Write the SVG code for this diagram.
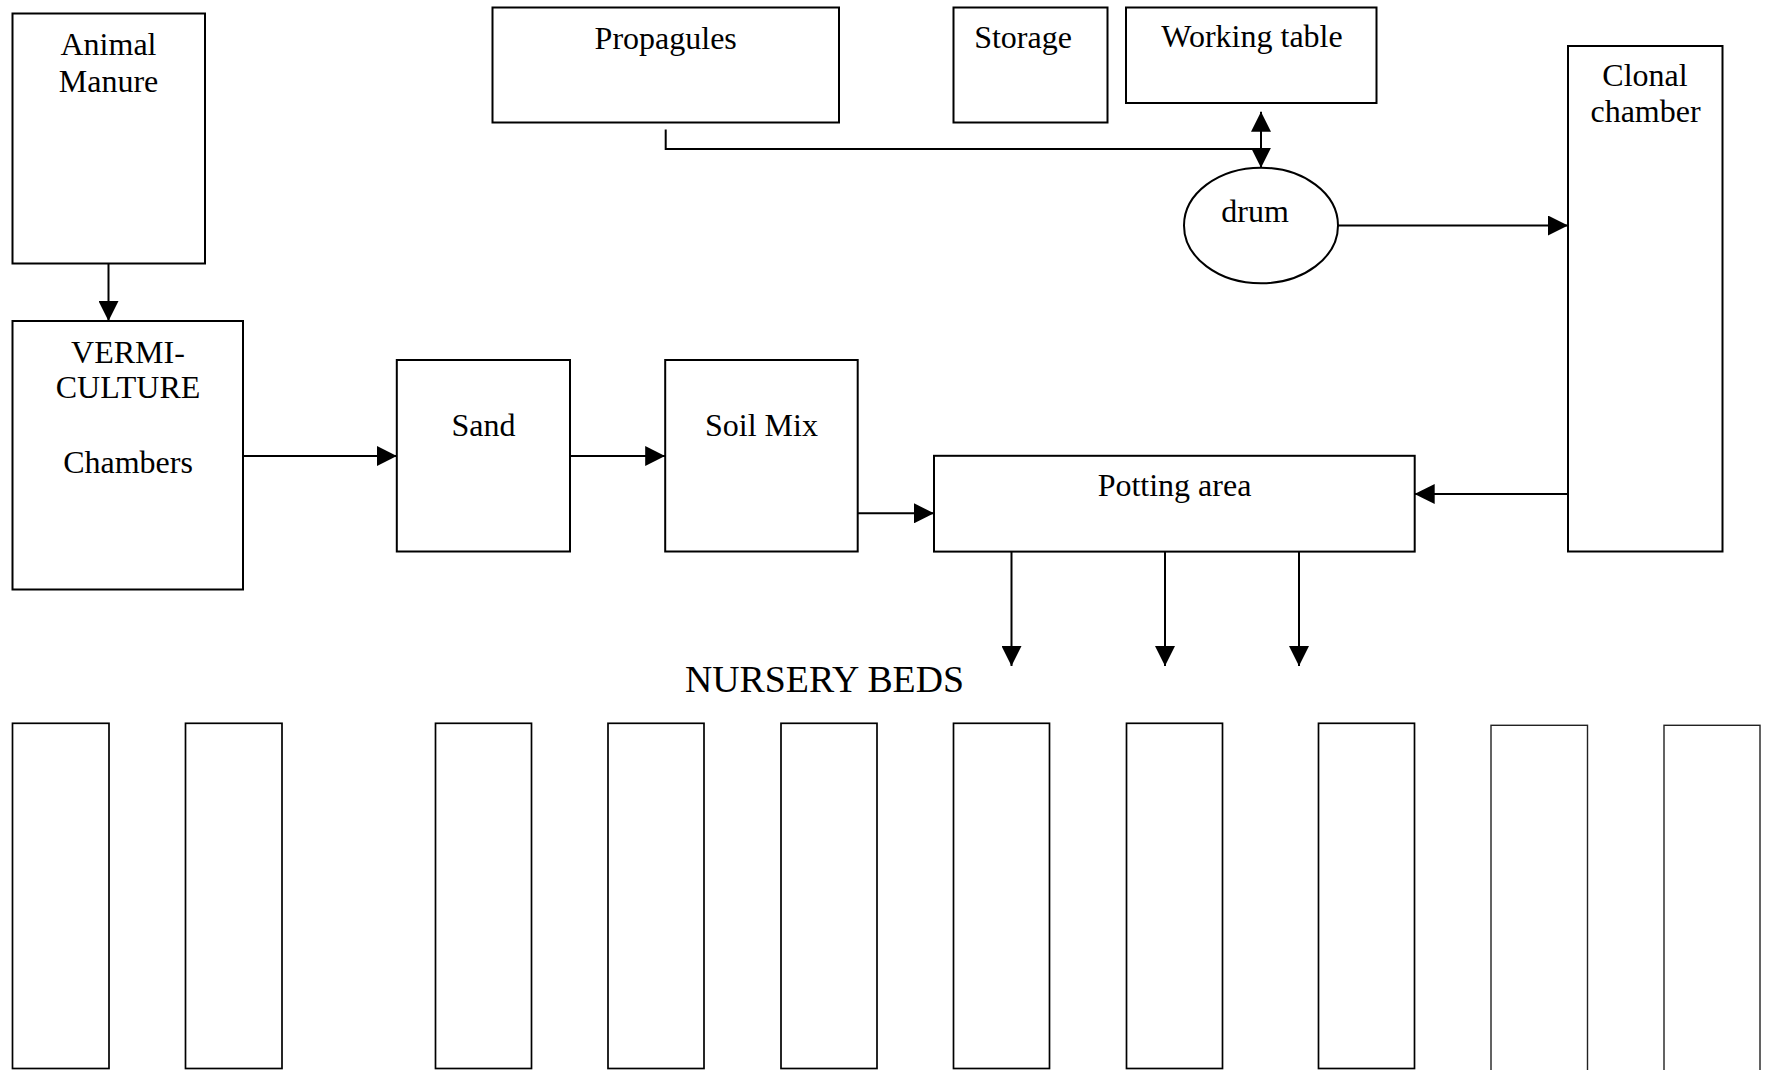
<svg xmlns="http://www.w3.org/2000/svg" width="1765" height="1070" viewBox="0 0 1765 1070">
<style>
  .box { fill: #ffffff; stroke: #000000; stroke-width: 2; }
  .bed { fill: #ffffff; stroke: #000000; stroke-width: 1.7; }
  .bed-thin { fill: #ffffff; stroke: #222222; stroke-width: 1.4; }
  .lbl { font-family: "Liberation Serif", "Times New Roman", serif; font-size: 32px; fill: #000000; text-anchor: middle; }
  .title { font-family: "Liberation Serif", "Times New Roman", serif; font-size: 37.8px; fill: #000000; }
  .conn { fill: none; stroke: #000000; stroke-width: 2; }
  .arr { marker-end: url(#ah); }
</style>
<defs>
  <marker id="ah" markerUnits="userSpaceOnUse" markerWidth="20" markerHeight="20" viewBox="0 0 20 20" refX="20" refY="10" orient="auto-start-reverse">
    <path d="M0,0 L20,10 L0,20 Z" fill="#000000"/>
  </marker>
</defs>
<rect width="1765" height="1070" fill="#ffffff"/>

<g id="animal-manure">
  <rect class="box" x="12.5" y="13.5" width="192.5" height="250"/>
  <text class="lbl" x="108.5" y="55">Animal</text>
  <text class="lbl" x="108.5" y="92">Manure</text>
</g>
<g id="vermiculture">
  <rect class="box" x="12.5" y="321" width="230.5" height="268.5"/>
  <text class="lbl" x="128" y="363">VERMI-</text>
  <text class="lbl" x="128" y="398">CULTURE</text>
  <text class="lbl" x="128" y="473">Chambers</text>
</g>
<g id="propagules">
  <rect class="box" x="492.5" y="7.5" width="346.5" height="115"/>
  <text class="lbl" x="665.7" y="49">Propagules</text>
</g>
<g id="storage">
  <rect class="box" x="953.5" y="7.5" width="154" height="115"/>
  <text class="lbl" x="1023" y="47.7">Storage</text>
</g>
<g id="working-table">
  <rect class="box" x="1126" y="7.5" width="250.5" height="95.5"/>
  <text class="lbl" x="1252" y="46.7">Working table</text>
</g>
<g id="drum">
  <ellipse class="box" cx="1261" cy="225.5" rx="77" ry="57.8"/>
  <text class="lbl" x="1255" y="221.7">drum</text>
</g>
<g id="clonal-chamber">
  <rect class="box" x="1568" y="46" width="154.5" height="505.5"/>
  <text class="lbl" x="1645" y="86">Clonal</text>
  <text class="lbl" x="1645.5" y="121.7">chamber</text>
</g>
<g id="sand">
  <rect class="box" x="396.8" y="360" width="173.2" height="191.5"/>
  <text class="lbl" x="483.4" y="436">Sand</text>
</g>
<g id="soil-mix">
  <rect class="box" x="665.2" y="360" width="192.5" height="191.5"/>
  <text class="lbl" x="761.5" y="436">Soil Mix</text>
</g>
<g id="potting-area">
  <rect class="box" x="934" y="455.8" width="480.7" height="95.8"/>
  <text class="lbl" x="1174.5" y="495.7">Potting area</text>
</g>
<g id="nursery-beds">
  <text class="title" x="685" y="692">NURSERY BEDS</text>
  <rect class="bed" x="12.5" y="723.3" width="96.5" height="345.2"/>
  <rect class="bed" x="185.5" y="723.3" width="96.5" height="345.2"/>
  <rect class="bed" x="435.5" y="723.3" width="96" height="345.2"/>
  <rect class="bed" x="608" y="723.3" width="96" height="345.2"/>
  <rect class="bed" x="781" y="723.3" width="96" height="345.2"/>
  <rect class="bed" x="953.5" y="723.3" width="96" height="345.2"/>
  <rect class="bed" x="1126.5" y="723.3" width="96" height="345.2"/>
  <rect class="bed" x="1318.5" y="723.3" width="96" height="345.2"/>
  <rect class="bed-thin" x="1491" y="725.3" width="96.5" height="360"/>
  <rect class="bed-thin" x="1664" y="725.3" width="96" height="360"/>
</g>

<g id="connectors">
  <line class="conn arr" x1="108.5" y1="263.5" x2="108.5" y2="321"/>
  <line class="conn arr" x1="243" y1="456" x2="396.8" y2="456"/>
  <line class="conn arr" x1="570" y1="456" x2="665.2" y2="456"/>
  <line class="conn arr" x1="857.7" y1="513.3" x2="934" y2="513.3"/>
  <line class="conn arr" x1="1568" y1="494" x2="1414.7" y2="494"/>
  <line class="conn arr" x1="1338" y1="225.5" x2="1568" y2="225.5"/>
  <polyline class="conn" points="665.7,129.5 665.7,149 1261,149"/>
  <line class="conn" x1="1261" y1="111.7" x2="1261" y2="167.7" marker-start="url(#ah)" marker-end="url(#ah)"/>
  <line class="conn arr" x1="1011.5" y1="551.6" x2="1011.5" y2="666"/>
  <line class="conn arr" x1="1165" y1="551.6" x2="1165" y2="666"/>
  <line class="conn arr" x1="1299" y1="551.6" x2="1299" y2="666"/>
</g>
</svg>
